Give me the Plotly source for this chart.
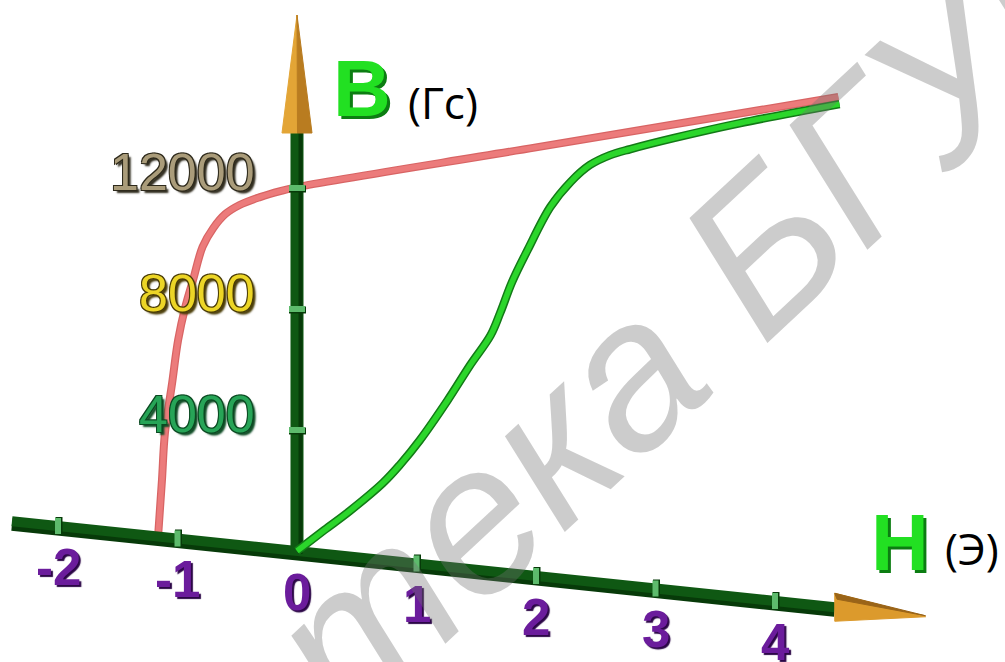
import plotly.graph_objects as go

# Initial magnetisation curve (green), H in oersted, B in gauss
h_initial = [0, 0.23, 0.44, 0.72, 0.86, 1.03, 1.26, 1.45, 1.62, 1.70, 1.80, 1.93,
             2.12, 2.29, 2.45, 2.62, 2.79, 3.15, 3.71, 4.54]
b_initial = [0, 790, 1500, 2550, 3200, 4100, 5500, 6750, 7800, 8570, 9640, 10750,
             12250, 13150, 13770, 14170, 14440, 14950, 15680, 16650]

# Hysteresis branch (red): from coercive force up to saturation
h_loop = [-1.16, -1.13, -1.105, -1.045, -0.995, -0.935, -0.87, -0.79, -0.70,
          -0.60, -0.48, -0.31, -0.14, 0, 2.0, 4.53]
b_loop = [150, 1880, 3450, 5120, 6560, 7680, 8600, 9730, 10390,
          10890, 11240, 11570, 11840, 12030, 14170, 16880]

h_ticks = [-2, -1, 0, 1, 2, 3, 4]
h_tick_labels = ["-2", "-1", "0", "1", "2", "3", "4"]
b_ticks = [4000, 8000, 12000]
b_tick_labels = ["4000", "8000", "12000"]

# ---- drawing geometry -------------------------------------------------------
W, H_PX = 1005, 662
X0, Y0 = 297, 551          # pixel position of the origin
PX_PER_H = 119.5           # horizontal pixels per oersted
DROP_PER_H = 12.5          # the H axis sinks this many pixels per oersted
PX_PER_B = 0.03025         # vertical pixels per gauss
SKEW = DROP_PER_H / PX_PER_B


def lift(h, b):
    """Vertical plot coordinate of a point (h, b) on the sloping H axis frame."""
    return b - SKEW * h


x_range = [-X0 / PX_PER_H, (W - X0) / PX_PER_H]
y_range = [-(H_PX - Y0) / PX_PER_B, Y0 / PX_PER_B]
px_h = 1 / PX_PER_H        # one pixel expressed in H units
px_b = 1 / PX_PER_B        # one pixel expressed in B units

AXIS_GREEN = "#0f5813"
AXIS_DARK = "#073a09"
TICK_GREEN = "#5dbb6c"
GOLD = "#dc9a2c"
GOLD_DARK = "#9a6418"

fig = go.Figure()


def seg(xs, ys, color, width, shape="linear"):
    fig.add_trace(go.Scatter(x=xs, y=ys, mode="lines", hoverinfo="skip",
                             line=dict(color=color, width=width, shape=shape)))


def poly(xs, ys, color):
    fig.add_trace(go.Scatter(x=xs, y=ys, mode="lines", fill="toself",
                             fillcolor=color, hoverinfo="skip",
                             line=dict(color=color, width=1)))


# red branch (behind the axes)
loop_y = [lift(h, b) for h, b in zip(h_loop, b_loop)]
seg(h_loop, loop_y, "#d86464", 8, "spline")
seg(h_loop, loop_y, "#ec7b7b", 5.5, "spline")

# H axis bar
h_left, h_right, h_tip = -2.385, 4.50, 5.26
seg([h_left, h_right], [lift(h_left, 0) - 3 * px_b, lift(h_right, 0) - 3 * px_b], AXIS_DARK, 13)
seg([h_left, h_right], [lift(h_left, 0), lift(h_right, 0)], AXIS_GREEN, 10)
# H axis arrow head
half = 14 * px_b
poly([h_right, h_tip, h_right, h_right],
     [lift(h_right, 0) + half, lift(h_tip, 0), lift(h_right, 0) - half, lift(h_right, 0) + half],
     GOLD)
poly([h_right, h_tip, h_right + 0.02, h_right],
     [lift(h_right, 0) + half, lift(h_tip, 0) + 1 * px_b, lift(h_right, 0) + half - 6 * px_b,
      lift(h_right, 0) + half],
     GOLD_DARK)

# B axis bar
b_top, b_tip = 13818, 17719
seg([0, 0], [-3 * px_b, b_top], AXIS_GREEN, 13)
seg([3.5 * px_h, 3.5 * px_h], [-3 * px_b, b_top], AXIS_DARK, 4)
# B axis arrow head (two shaded halves)
bw = 15 * px_h
poly([-bw, 0, 0.5 * px_h, -bw], [b_top, b_tip, b_top, b_top], "#e3a536")
poly([0.5 * px_h, 0, bw, 0.5 * px_h], [b_top, b_tip, b_top, b_top], "#b97c20")

# tick bands on the axes
for h in h_ticks:
    if h == 0:
        continue
    yc = lift(h, 0)
    seg([h + 1 * px_h, h + 1 * px_h], [yc - 8 * px_b, yc + 9 * px_b], AXIS_DARK, 7)
    seg([h, h], [yc - 8 * px_b, yc + 8 * px_b], TICK_GREEN, 6)
for b in b_ticks:
    seg([-8 * px_h, 9 * px_h], [b - 1 * px_b, b - 1 * px_b], AXIS_DARK, 7)
    seg([-8 * px_h, 8 * px_h], [b, b], TICK_GREEN, 6)

# green initial curve (on top)
init_y = [lift(h, b) for h, b in zip(h_initial, b_initial)]
seg(h_initial, init_y, "#137a17", 8.5, "spline")
seg(h_initial, init_y, "#2bd62b", 5.5, "spline")

annotations = []

# H tick labels
for h, lab in zip(h_ticks, h_tick_labels):
    annotations.append(dict(
        x=h, y=lift(h, 0), text=lab, showarrow=False, xanchor="center",
        yanchor="middle", yshift=-41,
        font=dict(family="Liberation Sans", size=51, weight="bold", color="#6b1c9c",
                  shadow="2px 2px 1px #2c0747")))

# B tick labels
b_fill = ["#27a457", "#ecd526", "#aa9c7a"]
b_edge = ["#0b4a22", "#4a3c06", "#2e2a1c"]
for b, lab, c, e in zip(b_ticks, b_tick_labels, b_fill, b_edge):
    annotations.append(dict(
        x=0, y=b, text=lab, showarrow=False, xanchor="right", yanchor="middle",
        xshift=-40, yshift=16,
        font=dict(family="Liberation Sans", size=52, color=c,
                  shadow=f"-1px -1px 0 {e}, 1px -1px 0 {e}, -1px 1px 0 {e}, "
                         f"1px 1px 0 {e}, 3px 3px 2px {e}")))

# axis titles
annotations += [
    dict(x=362 / W, y=1 - 88 / H_PX, xref="paper", yref="paper", text="B",
         showarrow=False, xanchor="center", yanchor="middle",
         font=dict(family="Liberation Sans", size=80, weight="bold", color="#22e022",
                   shadow="3px 3px 0 #0c7d12")),
    dict(x=443 / W, y=1 - 102 / H_PX, xref="paper", yref="paper", text="(Гс)",
         showarrow=False, xanchor="center", yanchor="middle",
         font=dict(family="Open Sans", size=44, color="#000000")),
    dict(x=900 / W, y=1 - 542 / H_PX, xref="paper", yref="paper", text="H",
         showarrow=False, xanchor="center", yanchor="middle",
         font=dict(family="Liberation Sans", size=80, weight="bold", color="#22e022",
                   shadow="3px 3px 0 #0c7d12")),
    dict(x=972 / W, y=1 - 548 / H_PX, xref="paper", yref="paper", text="(Э)",
         showarrow=False, xanchor="center", yanchor="middle",
         font=dict(family="Open Sans", size=44, color="#000000")),
]

# library watermark across the chart
annotations.append(dict(
    x=490 / W, y=1 - 502 / H_PX, xref="paper", yref="paper",
    text="Библиотека БГУИР", showarrow=False, textangle=-43,
    xanchor="center", yanchor="middle",
    font=dict(family="Liberation Sans", size=210, style="italic",
              color="rgba(115,115,115,0.36)")))

fig.update_layout(
    width=W, height=H_PX, margin=dict(l=0, r=0, t=0, b=0),
    paper_bgcolor="white", plot_bgcolor="white", showlegend=False,
    xaxis=dict(range=x_range, visible=False, fixedrange=True),
    yaxis=dict(range=y_range, visible=False, fixedrange=True),
    annotations=annotations,
)

fig.write_html("out.html")
